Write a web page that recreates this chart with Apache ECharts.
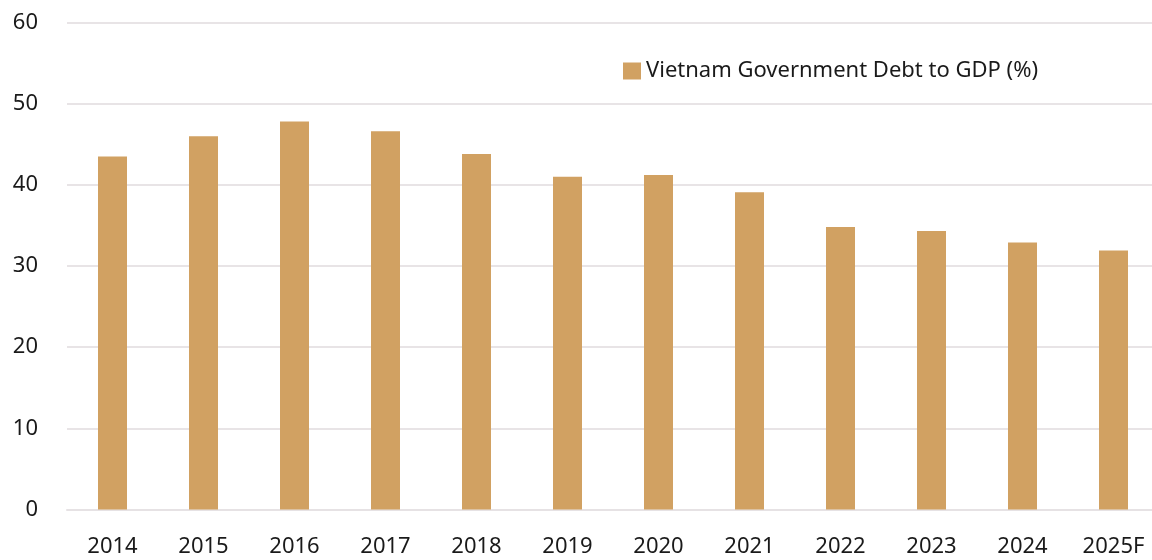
<!DOCTYPE html>
<html><head><meta charset="utf-8">
<script src="https://cdn.jsdelivr.net/npm/echarts@6/dist/echarts.min.js"></script>
<style>html,body{margin:0;padding:0;background:#fff;overflow:hidden;width:1152px;height:560px}#c{width:1162px;height:560px}</style>
</head><body><div id="c"></div>
<script>
var categories = ['2014','2015','2016','2017','2018','2019','2020','2021','2022','2023','2024','2025F'];
var debtToGdp = [43.5, 46.0, 47.8, 46.6, 43.8, 41.0, 41.2, 39.1, 34.8, 34.3, 32.9, 31.9];
var seriesName = 'Vietnam Government Debt to GDP (%)';
var yTicks = [0, 60, 10];

var FONT = '"Noto Sans", sans-serif';
var chart = echarts.init(document.getElementById('c'), null, {renderer: 'canvas'});
chart.setOption({
  animation: false,
  backgroundColor: '#ffffff',
  textStyle: {fontFamily: FONT},
  legend: {
    data: [seriesName],
    left: 618, top: 55,
    itemWidth: 18, itemHeight: 17, itemGap: 8,
    icon: 'rect',
    textStyle: {fontFamily: FONT, fontSize: 22, color: '#1a1a1a'}
  },
  grid: {left: 67, top: 22.5, width: 1092, height: 487, containLabel: false},
  xAxis: {
    type: 'category', data: categories,
    axisLine: {show: true, lineStyle: {color: '#e6e2e4', width: 2}},
    axisTick: {show: false},
    axisLabel: {fontFamily: FONT, fontSize: 22, color: '#1a1a1a', margin: 26}
  },
  yAxis: {
    type: 'value', min: yTicks[0], max: yTicks[1], interval: yTicks[2],
    axisLine: {show: false}, axisTick: {show: false},
    splitLine: {lineStyle: {color: '#e8e4e6', width: 2}},
    axisLabel: {fontFamily: FONT, fontSize: 22, color: '#1a1a1a', margin: 29}
  },
  series: [{
    name: seriesName, type: 'bar', data: debtToGdp,
    barWidth: 29,
    itemStyle: {color: '#d1a162'}
  }]
});
</script></body></html>
